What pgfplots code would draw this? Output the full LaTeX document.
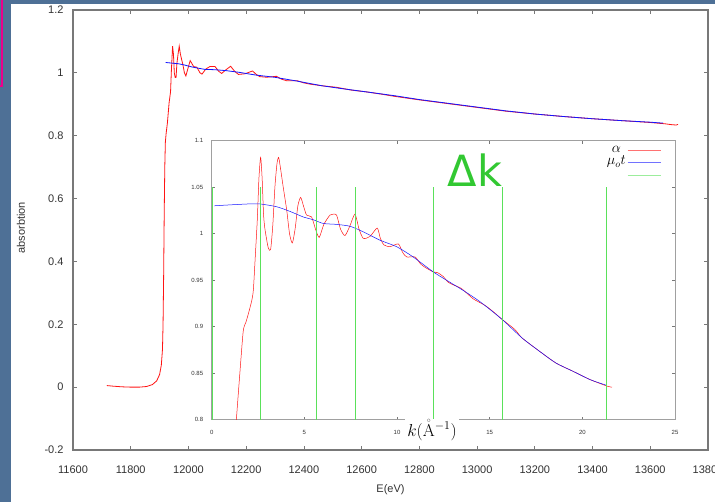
\documentclass[border=0pt]{standalone}
\usepackage[no-math]{fontspec}
\setmainfont{Liberation Sans}
\newfontfamily\dejavu{DejaVu Sans}
\usepackage{pgfplots}
\pgfplotsset{compat=1.18}
\definecolor{bgblue}{RGB}{78,112,150}
\definecolor{axgray}{RGB}{120,120,120}
\definecolor{inaxgray}{RGB}{160,160,160}
\definecolor{dkgreen}{RGB}{50,200,50}
\definecolor{lgreen}{RGB}{90,225,90}
\definecolor{myred}{RGB}{255,20,20}
\definecolor{myblue}{RGB}{20,20,255}
\begin{document}
\begin{tikzpicture}
\useasboundingbox (0pt,0pt) rectangle (715pt,502pt);
\clip (0pt,0pt) rectangle (715pt,502pt);
\fill[bgblue] (0pt,0pt) rectangle (715pt,502pt);
\fill[white] (11pt,0pt) rectangle (715pt,498pt);
\draw[magenta, line width=2pt] (1.5pt,502pt) -- (1.5pt,416pt) -- (0pt,416pt);
\begin{axis}[
  at={(73pt,52pt)}, anchor=south west, scale only axis,
  width=635pt, height=440pt,
  xmin=11600, xmax=13800, ymin=-0.2, ymax=1.2,
  xtick={11600,11800,12000,12200,12400,12600,12800,13000,13200,13400,13600,13800},
  ytick={-0.2,0,0.2,0.4,0.6,0.8,1,1.2},
  scaled x ticks=false, scaled y ticks=false,
  /pgf/number format/1000 sep={},
  /pgf/number format/assume math mode=true,
  tick pos=both, tick align=inside, major tick length=4pt,
  tick style={axgray, line width=0.8pt},
  axis line style={axgray, line width=1.1pt},
  tick label style={font=\fontsize{11}{13}\selectfont, text=black!80},
  xticklabel shift=12pt, yticklabel shift=6pt,
  xlabel={E(eV)}, ylabel={absorbtion},
  xlabel style={at={(axis description cs:0.5,-0.09)}, anchor=center, font=\fontsize{11}{13}\selectfont, text=black!80},
  ylabel style={at={(axis description cs:-0.082,0.505)}, anchor=center, font=\fontsize{11}{13}\selectfont, text=black!80},
]
\addplot[myred, line width=0.8pt] coordinates {
(11717,0.005) (11740,0.003) (11770,0.001) (11800,0.000) (11830,0.000) (11855,0.002)
(11875,0.008) (11890,0.020) (11900,0.040) (11906,0.070) (11910,0.120) (11912,0.200)
(11914,0.350) (11916,0.550) (11918,0.700) (11920,0.780) (11923,0.810) (11927,0.840)
(11933,0.905) (11938,0.940) (11941,1.010) (11945,1.085) (11948,1.060) (11951,1.000)
(11954,0.985) (11957,0.985) (11960,1.030) (11964,1.060) (11968,1.085) (11972,1.060)
(11977,1.040) (11981,1.025) (11986,1.000) (11991,0.990) (11997,1.010) (12006,1.039)
(12018,1.020) (12029,1.018) (12040,1.000) (12047,0.996) (12060,1.012) (12074,1.020)
(12092,1.020) (12105,1.005) (12115,0.998) (12130,1.010) (12146,1.021) (12160,1.005)
(12173,0.995) (12196,0.997) (12222,1.006) (12235,0.995) (12247,0.988) (12271,0.986)
(12305,0.989) (12322,0.980) (12340,0.975) (12377,0.975) (12400,0.968) (12422,0.964)
(12462,0.959) (12513,0.954) (12565,0.945) (12620,0.939) (12670,0.932) (12716,0.925)
(12800,0.914) (12900,0.902) (13000,0.890) (13100,0.878) (13200,0.869) (13300,0.861)
(13400,0.854) (13500,0.848) (13600,0.842) (13650,0.838) (13675,0.835) (13690,0.834)
(13696,0.836)};
\addplot[myblue, line width=0.8pt] coordinates {
(11921,1.033) (11965,1.029) (11986,1.025) (12011,1.019) (12033,1.015) (12057,1.011)
(12092,1.010) (12131,1.007) (12173,1.002) (12233,0.993) (12298,0.986) (12369,0.975)
(12462,0.959) (12530,0.950) (12620,0.939) (12716,0.927) (12800,0.915) (12900,0.903)
(13000,0.891) (13100,0.879) (13200,0.869) (13300,0.861) (13400,0.854) (13500,0.848)
(13600,0.843) (13644,0.840)};
\end{axis}
\begin{axis}[
  at={(211.7pt,82.3pt)}, anchor=south west, scale only axis,
  width=463.3pt, height=279pt,
  xmin=0, xmax=25, ymin=0.8, ymax=1.1,
  xtick={0,5,10,15,20,25},
  ytick={0.8,0.85,0.9,0.95,1,1.05,1.1},
  axis background/.style={fill=white},
  /pgf/number format/assume math mode=true,
  tick pos=both, tick align=inside, major tick length=3pt,
  tick style={axgray, line width=0.6pt},
  axis line style={inaxgray, line width=0.8pt},
  tick label style={font=\fontsize{6}{7}\selectfont, text=black!80},
  xticklabel shift=7pt, yticklabel shift=5pt,
  unbounded coords=jump,
  xlabel={$k(\mathring{\mathrm{A}}^{-1})$},
  xlabel style={at={(axis description cs:0.4755,-0.037)}, anchor=center, fill=white, inner xsep=2.5pt, inner ysep=1pt, font=\fontsize{17}{20}\selectfont},
  legend plot pos=right,
  legend cell align=center,
  legend image code/.code={\draw[#1,line width=0.6pt,draw opacity=0.6,sharp plot] (0pt,0pt) -- (33pt,0pt);},
  legend style={at={(axis description cs:0.97,0.989)}, anchor=north east, draw=none, fill=none,
    font=\fontsize{14}{16}\selectfont, row sep=0pt, inner sep=0pt,
    nodes={inner sep=1.5pt, text height=7pt, text depth=2.5pt}},
]
\addplot[myred, line width=0.5pt, smooth, tension=0.4] coordinates {
(1.25,0.78) (1.33,0.80) (1.50,0.845) (1.70,0.895) (1.85,0.905) (1.98,0.914) (2.16,0.928)
(2.25,0.940) (2.35,0.975) (2.46,1.015) (2.55,1.060) (2.64,1.082) (2.72,1.060) (2.80,1.020)
(2.88,1.004) (3.05,0.985) (3.18,0.983) (3.30,1.010) (3.41,1.050) (3.52,1.075) (3.61,1.082)
(3.70,1.072) (3.86,1.050) (4.05,1.025) (4.20,1.000) (4.35,0.990) (4.50,1.005) (4.65,1.030)
(4.80,1.039) (4.95,1.030) (5.12,1.020) (5.39,1.018) (5.60,1.005) (5.80,0.996) (6.05,1.010)
(6.38,1.020) (6.55,1.021) (6.74,1.020) (6.95,1.005) (7.19,0.998) (7.45,1.008) (7.73,1.021)
(7.95,1.005) (8.18,0.995) (8.54,0.997) (8.93,1.006) (9.10,0.995) (9.29,0.988) (9.62,0.986)
(10.07,0.989) (10.30,0.980) (10.52,0.975) (10.97,0.975) (11.25,0.968) (11.50,0.964)
(11.95,0.959) (12.20,0.958) (12.49,0.954) (12.75,0.948) (13.03,0.945) (13.48,0.941)
(14.11,0.930) (14.74,0.923) (15.20,0.916) (15.66,0.908) (16.36,0.897) (16.74,0.888)
(17.66,0.874) (18.57,0.861) (19.50,0.852) (20.43,0.843) (21.35,0.836) (21.60,0.835)};
\addlegendentry{$\alpha$}
\addplot[myblue, line width=0.5pt, smooth, tension=0.4] coordinates {
(0.14,1.030) (1.0,1.031) (2.0,1.032) (2.6,1.032) (3.5,1.029) (4.22,1.024) (4.94,1.018)
(5.48,1.015) (6.02,1.011) (6.74,1.010) (7.46,1.008) (8.18,1.002) (9.08,0.993) (9.98,0.986)
(10.87,0.975) (11.95,0.959) (12.67,0.950) (13.57,0.939) (14.47,0.927) (15.66,0.908)
(16.74,0.888) (17.66,0.874) (18.57,0.861) (19.50,0.852) (20.43,0.843) (21.30,0.837)};
\addlegendentry{$\mu_o t$}
\addplot[lgreen, line width=0.7pt] coordinates {
(0.03,0.8) (0.03,1.05) (0.03,nan)
(2.62,0.8) (2.62,1.05) (2.62,nan)
(5.66,0.8) (5.66,1.05) (5.66,nan)
(7.77,0.8) (7.77,1.05) (7.77,nan)
(11.95,0.8) (11.95,1.05) (11.95,nan)
(15.66,0.8) (15.66,1.05) (15.66,nan)
(21.27,0.8) (21.27,1.05)};
\addlegendentry{}
\end{axis}
\node[anchor=base, text=dkgreen, inner sep=0pt, font=\dejavu\fontsize{43}{50}\selectfont] at (475pt,315.3pt) {Δk};
\end{tikzpicture}
\end{document}
